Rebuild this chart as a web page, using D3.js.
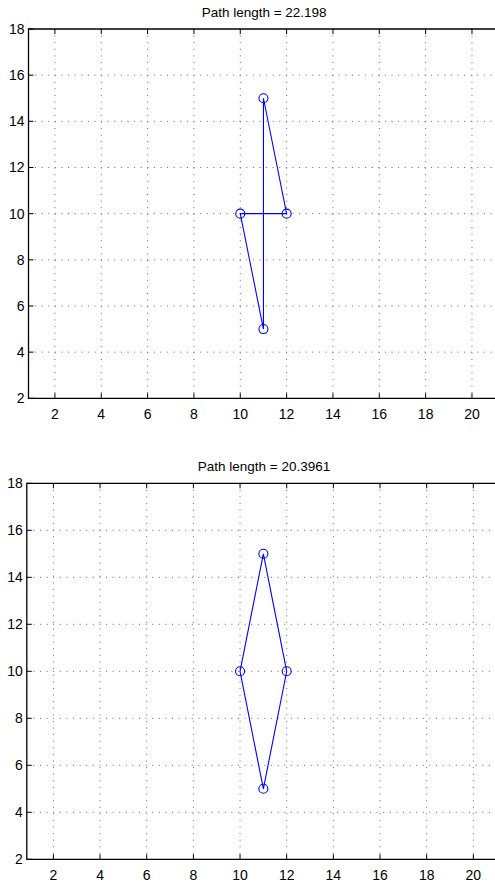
<!DOCTYPE html>
<html lang="en">
<head>
<meta charset="utf-8">
<title>Path length</title>
<script src="https://d3js.org/d3.v7.min.js"></script>
<style>
  body { margin: 0; background: #fff; }
  svg { display: block; font-family: "Liberation Sans", Arial, sans-serif; }
  .grid line { stroke: #666; stroke-width: 1; stroke-dasharray: 1 5.6; }
  .title { font-size: 13.5px; text-anchor: middle; }
  .tick-label { font-size: 14px; }
  .route { fill: none; stroke: #0000ff; stroke-width: 1.1; }
  .stop { fill: none; stroke: #0000ff; stroke-width: 1.1; }
</style>
</head>
<body>
<svg width="495" height="882"></svg>
<script>
// tick values
var xTicks = [2, 4, 6, 8, 10, 12, 14, 16, 18, 20];
var yTicks = [2, 4, 6, 8, 10, 12, 14, 16, 18];

// top plot: closed tour through the four points
var topTitle = "Path length = 22.198";
var topX = [11, 12, 10, 11, 11];
var topY = [15, 10, 10, 5, 15];

// bottom plot: shorter tour
var bottomTitle = "Path length = 20.3961";
var bottomX = [11, 12, 11, 10, 11];
var bottomY = [15, 10, 5, 10, 15];

var svg = d3.select("svg");

function drawPlot(box, title, xs, ys) {
  var g = svg.append("g");
  var x = d3.scaleLinear().domain([0.86, 21.2]).range([box.left, box.left + 20.34 * box.ux]);
  var y = d3.scaleLinear().domain([2, 18]).range([box.bottom, box.top]);
  var right = 495;

  // dotted grid
  var grid = g.append("g").attr("class", "grid");
  grid.selectAll(".gx").data(xTicks).join("line")
      .attr("x1", d => x(d)).attr("x2", d => x(d))
      .attr("y1", box.top).attr("y2", box.bottom);
  grid.selectAll(".gy").data(yTicks.filter(d => d > 2 && d < 18)).join("line")
      .attr("class", "gy")
      .attr("x1", box.left).attr("x2", right)
      .attr("y1", d => y(d)).attr("y2", d => y(d));

  // inward tick marks
  g.append("g").selectAll("line").data(xTicks).join("line")
      .attr("x1", d => x(d)).attr("x2", d => x(d))
      .attr("y1", box.bottom).attr("y2", box.bottom - 5)
      .attr("stroke", "#000");
  g.append("g").selectAll("line").data(xTicks).join("line")
      .attr("x1", d => x(d)).attr("x2", d => x(d))
      .attr("y1", box.top).attr("y2", box.top + 5)
      .attr("stroke", "#000");
  g.append("g").selectAll("line").data(yTicks).join("line")
      .attr("x1", box.left).attr("x2", box.left + 5)
      .attr("y1", d => y(d)).attr("y2", d => y(d))
      .attr("stroke", "#000");

  // frame (left, top, bottom)
  g.append("path")
      .attr("d", `M${right},${box.top}H${box.left}V${box.bottom}H${right}`)
      .attr("fill", "none").attr("stroke", "#000").attr("stroke-width", 1.3);

  // tick labels
  g.append("g").selectAll("text").data(xTicks).join("text")
      .attr("class", "tick-label")
      .attr("x", d => x(d)).attr("y", box.bottom + 21)
      .attr("text-anchor", "middle")
      .text(d => d);
  g.append("g").selectAll("text").data(yTicks).join("text")
      .attr("class", "tick-label")
      .attr("x", box.left - 4).attr("y", d => y(d) + 5)
      .attr("text-anchor", "end")
      .text(d => d);

  g.append("text").attr("class", "title")
      .attr("x", (box.left + x(21.2)) / 2).attr("y", box.top - 12)
      .text(title);

  var pts = xs.map((v, i) => [v, ys[i]]);
  var line = d3.line().x(d => x(d[0])).y(d => y(d[1]));
  g.append("path").datum(pts).attr("class", "route").attr("d", line);
  g.selectAll(".stop").data(pts.slice(0, -1)).join("circle")
      .attr("class", "stop")
      .attr("cx", d => x(d[0])).attr("cy", d => y(d[1]))
      .attr("r", 4.5);
}

drawPlot({left: 28.5, top: 29, bottom: 398.3, ux: 23.17}, topTitle, topX, topY);
drawPlot({left: 26.8, top: 483.3, bottom: 859.3, ux: 23.33}, bottomTitle, bottomX, bottomY);
</script>
</body>
</html>
